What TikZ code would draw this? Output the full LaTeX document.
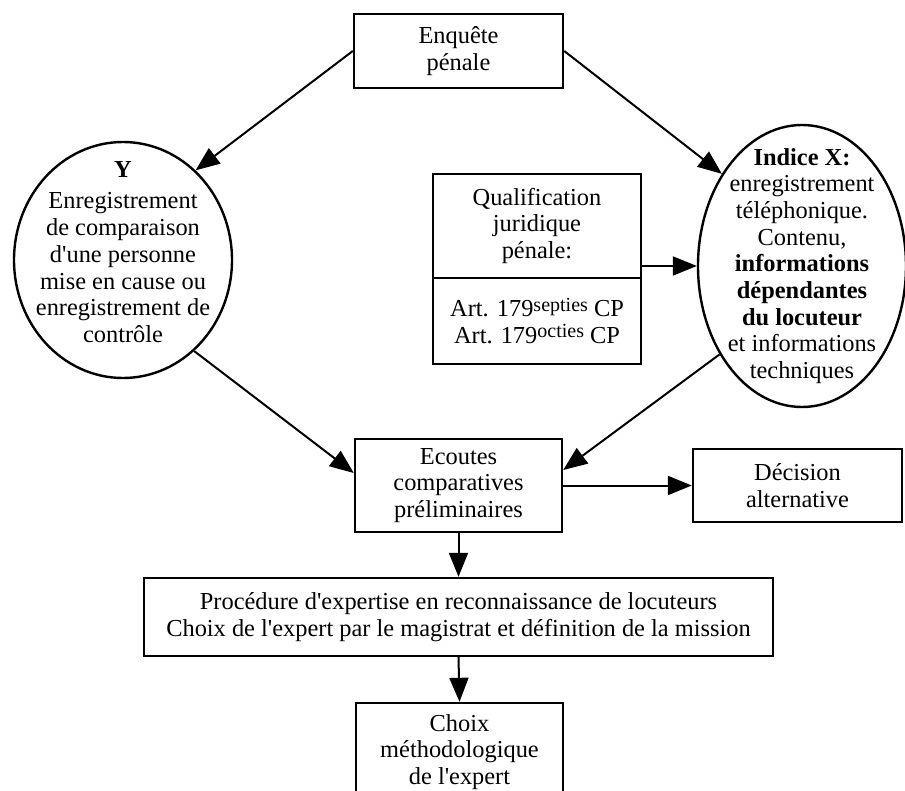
\documentclass[tikz,border=0pt]{standalone}
\usepackage{fontspec}
\setmainfont{Liberation Serif}
\usetikzlibrary{shapes.geometric,arrows.meta,calc}
\newcommand\mysup[1]{\raisebox{0.5ex}{\fontsize{10}{10}\selectfont #1}}
\begin{document}
\begin{tikzpicture}[x=0.5pt,y=-0.5pt,
  every node/.style={font=\fontsize{12.2}{13.35}\selectfont, align=center, inner sep=0pt},
  box/.style={draw, line width=1.2pt, rectangle},
  oval/.style={draw, line width=1.2pt, ellipse},
  arr/.style={-{Triangle[length=12pt,width=9.5pt]}, line width=1pt}]
\useasboundingbox (0,0) rectangle (905,791);
\clip (0,0) rectangle (905,791);
\node[box, minimum width=104.5pt, minimum height=37pt] (enq) at (458.5,51) {Enquête\\pénale};
\node[oval, minimum width=109pt, minimum height=118pt] (Y) at (123,260) {};
\node (Ytext) at (123,252)
  {\textbf{Y}\\[2.5pt]Enregistrement\\de comparaison\\d\textquotesingle une personne\\mise en cause ou\\enregistrement de\\contrôle};
\node[oval, minimum width=104pt, minimum height=141pt] (X) at (802,266) {};
\node (Xtext) at (802,266)
  {\textbf{Indice X:}\\enregistrement\\téléphonique.\\Contenu,\\\textbf{informations}\\\textbf{dépendantes}\\\textbf{du locuteur}\\et informations\\techniques};
\node[box, minimum width=104pt, minimum height=52pt] (qualtop) at (537,226) {Qualification\\juridique\\pénale:};
\node[box, minimum width=104pt, minimum height=43pt] (qualbot) at (537,321)
  {Art. 179\mysup{septies} CP\\Art. 179\mysup{octies} CP};
\node[box, minimum width=103.5pt, minimum height=46.5pt] (ecoutes) at (458.5,485.5) {Ecoutes\\comparatives\\préliminaires};
\node[box, minimum width=104.5pt, minimum height=36.5pt] (decision) at (797.5,485.5) {Décision\\alternative};
\node[box, minimum width=314.5pt, minimum height=39pt] (proc) at (458.5,617)
  {Procédure d\textquotesingle expertise en reconnaissance de locuteurs\\Choix de l\textquotesingle expert par le magistrat et définition de la mission};
\node[box, minimum width=103.5pt, minimum height=49pt] (choix) at (459.5,752) {Choix\\méthodologique\\de l\textquotesingle expert};
\draw[arr] (enq.west) -- (Y.51);
\draw[arr] (enq.east) -- (X.131);
\draw[arr] (qualtop.east |- X.west) -- (X.west);
\draw[arr] (Y.-52) -- ($(ecoutes.west)+(0,-12.5)$);
\draw[arr] (X.227) -- ($(ecoutes.east)+(0,-15.5)$);
\draw[arr] (ecoutes.east) -- (decision.west);
\draw[arr] (ecoutes.south) -- (proc.north);
\draw[arr] (proc.south) -- (choix.north);
\end{tikzpicture}
\end{document}
